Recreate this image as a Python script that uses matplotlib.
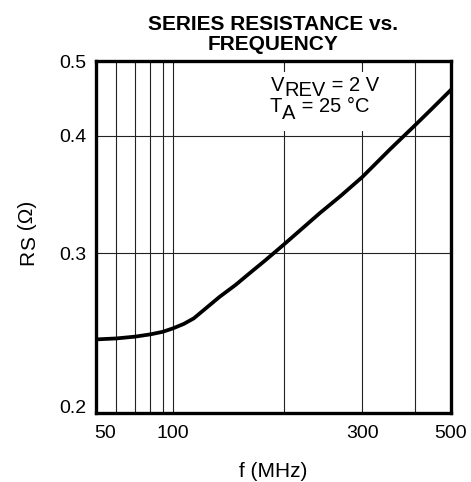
import numpy as np
import matplotlib
matplotlib.use('Agg')
import matplotlib.pyplot as plt
from matplotlib.patches import Rectangle
from matplotlib.transforms import ScaledTranslation

plt.rcParams['font.family'] = ['Liberation Sans', 'DejaVu Sans']

# curve
freq = [50, 60, 70, 80, 90, 100, 107, 114, 134, 148, 162, 178, 200, 241, 268,
        300, 350, 400, 445, 500]
rs = [0.241, 0.2416, 0.2427, 0.2441, 0.2457, 0.2478, 0.2506, 0.2542, 0.2685,
      0.2767, 0.2853, 0.2944, 0.3063, 0.3309, 0.3449, 0.3614, 0.3873, 0.4126,
      0.4339, 0.4588]

x_ticks = [50, 100, 300, 500]
x_grid = [60, 70, 80, 90, 200, 400]
y_ticks = [0.2, 0.3, 0.4, 0.5]

# the graph paper is not a clean log grid, so calibrate the scale on its lines
x_nodes = [50, 60, 70, 80, 90, 100, 200, 300, 400, 500]
x_px = [0, 20.3, 39, 54.3, 66.7, 76.7, 187.7, 266, 318.7, 354.7]
y_nodes = [0.2, 0.3, 0.4, 0.5]
y_px = [0, 160, 277.3, 352]


def paper_scale(nodes, px):
    lv = np.log10(nodes)
    px = np.asarray(px) / px[-1]

    def fwd(v):
        v = np.log10(np.clip(np.asarray(v, dtype=float), 1e-6, None))
        return np.interp(v, lv, px)

    def inv(p):
        return 10 ** np.interp(p, px, lv)
    return fwd, inv


fig = plt.figure(figsize=(4.71, 4.82), dpi=100)
ax = fig.add_axes([96 / 471, 69 / 482, 355 / 471, 352 / 482])
ax.set_xscale('function', functions=paper_scale(x_nodes, x_px))
ax.set_yscale('function', functions=paper_scale(y_nodes, y_px))

ax.plot(freq, rs, color='black', lw=2.7, solid_joinstyle='round', zorder=3)

ax.set_xlim(50, 500)
ax.set_ylim(0.2, 0.5)
ax.set_xticks(x_ticks, [str(t) for t in x_ticks])
ax.set_xticks(x_grid, minor=True)
ax.set_yticks(y_ticks, ['%.1f' % t for t in y_ticks])
ax.tick_params(which='both', length=0)
ax.tick_params(axis='x', pad=9, labelsize=14)
ax.tick_params(axis='y', pad=7, labelsize=14)
ax.set_axisbelow(True)
ax.grid(which='both', color='#222222', lw=0.8)
for sp in ax.spines.values():
    sp.set_linewidth(2.4)

# nudge the crowded corner labels like the original
lab50 = ax.get_xticklabels()[0]
lab50.set_transform(lab50.get_transform() + ScaledTranslation(6.7 / 72, 0, fig.dpi_scale_trans))
lab02 = ax.get_yticklabels()[0]
lab02.set_transform(lab02.get_transform() + ScaledTranslation(0, 5 / 72, fig.dpi_scale_trans))

ax.set_title('SERIES RESISTANCE vs.\nFREQUENCY', fontsize=15, fontweight='bold',
             linespacing=1.05, pad=8)
ax.set_xlabel('f (MHz)', fontsize=15, labelpad=14)

# y label with full size, dropped subscript
yl = ax.text(-0.177, 0.42, 'R', transform=ax.transAxes, rotation=90,
             rotation_mode='anchor', ha='left', va='baseline', fontsize=15)
ys = ax.annotate('S', xy=(1, 1), xycoords=yl, xytext=(1.5, 0), textcoords='offset points',
                 rotation=90, rotation_mode='anchor', ha='left', va='bottom', fontsize=15)
ax.annotate(' (Ω)', xy=(1, 1), xycoords=ys, xytext=(-1.5, 0), textcoords='offset points',
            rotation=90, rotation_mode='anchor', ha='left', va='bottom', fontsize=15)

# conditions box, gridlines blanked behind it
ax.add_patch(Rectangle((0.496, 0.80), 0.325, 0.17, transform=ax.transAxes,
                       fc='white', ec='none', zorder=1))
v1 = ax.text(0.493, 0.915, 'V', transform=ax.transAxes, fontsize=14.5, va='baseline', zorder=4)
v2 = ax.annotate('REV', xy=(1, 0), xycoords=v1, xytext=(0, -3.6), textcoords='offset points',
                 va='bottom', fontsize=14.5, zorder=4)
ax.annotate(' = 2 V', xy=(1, 0), xycoords=v2, xytext=(0, 3.6), textcoords='offset points',
            va='bottom', fontsize=14.5, zorder=4)
t1 = ax.text(0.49, 0.855, 'T', transform=ax.transAxes, fontsize=14.5, va='baseline', zorder=4)
t2 = ax.annotate('A', xy=(1, 0), xycoords=t1, xytext=(0, -5), textcoords='offset points',
                 va='bottom', fontsize=14.5, zorder=4)
ax.annotate(' = 25 °C', xy=(1, 0), xycoords=t2, xytext=(0, 5), textcoords='offset points',
            va='bottom', fontsize=14.5, zorder=4)

fig.savefig('out.png', dpi=100)
